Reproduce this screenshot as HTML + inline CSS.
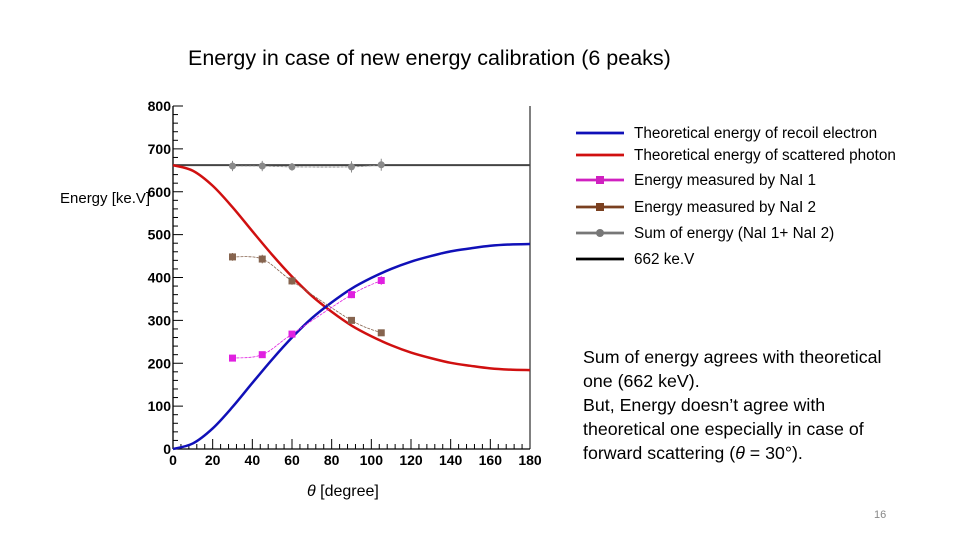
<!DOCTYPE html>
<html><head><meta charset="utf-8"><style>
body{margin:0;width:960px;height:540px;background:#fff;overflow:hidden;font-family:"Liberation Sans",sans-serif;position:relative}
.t{position:absolute;white-space:nowrap;color:#000}
</style></head><body>
<div class="t" style="left:188px;top:46px;font-size:21.5px">Energy in case of new energy calibration (6 peaks)</div>
<div class="t" style="left:60px;top:190px;font-size:15px">Energy [ke.V]</div>
<div class="t" style="left:307px;top:483px;font-size:16px"><i>θ</i> [degree]</div>
<div class="t" style="left:583px;top:345px;font-size:17.8px;line-height:24px">Sum of energy agrees with theoretical<br>one (662 keV).<br>But, Energy doesn’t agree with<br>theoretical one especially in case of<br>forward scattering (<i>θ</i> = 30°).</div>
<div class="t" style="left:874px;top:509px;font-size:11px;color:#888">16</div>
<svg id="chart" width="960" height="540" style="position:absolute;left:0;top:0"></svg>
<script>
const thetaT=[0,10,20,30,40,50,60,70,80,90,100,110,120,130,140,150,160,170,180];
const photonT=[662,649,614,564,508,453,402,357,320,288,263,242,225,212,201,194,188,185,184];
const electronT=[0,13,48,98,154,209,260,305,342,374,399,420,437,450,461,468,474,477,478];
const thetaM=[30,45,60,90,105];
const nai1=[212,220,268,360,393];
const nai2=[448,443,392,300,271];
const sumE=[660,660,658,658,663];
const sumErr=[12,12,9,13,14];
const nai1Err=[5,5,6,8,10];
const nai2Err=[9,10,9,6,5];
const xTicks=[0,20,40,60,80,100,120,140,160,180];
const yTicks=[0,100,200,300,400,500,600,700,800];
const legendLabels=["Theoretical energy of recoil electron","Theoretical energy of scattered photon","Energy measured by NaI 1","Energy measured by NaI 2","Sum of energy  (NaI 1+ NaI 2)","662 ke.V"];
const svg=document.getElementById('chart');const NS='http://www.w3.org/2000/svg';
const X=v=>173+v*(530-173)/180, Y=v=>449-v*(449-106)/800;
function mk(t,a,p){const e=document.createElementNS(NS,t);for(const k in a)e.setAttribute(k,a[k]);(p||svg).appendChild(e);return e;}
function smooth(xs,ys){let pts=xs.map((x,i)=>[X(x),Y(ys[i])]);let d='M'+pts[0];for(let i=0;i<pts.length-1;i++){const p0=pts[i-1]||pts[i],p1=pts[i],p2=pts[i+1],p3=pts[i+2]||p2;d+=' C'+(p1[0]+(p2[0]-p0[0])/6)+','+(p1[1]+(p2[1]-p0[1])/6)+' '+(p2[0]-(p3[0]-p1[0])/6)+','+(p2[1]-(p3[1]-p1[1])/6)+' '+p2;}return d;}
let e;
e=mk('line',{x1:X(0),y1:Y(0),x2:X(180),y2:Y(0),stroke:'#000','stroke-width':1.3});
e=mk('line',{x1:X(0),y1:Y(0),x2:X(0),y2:Y(800),stroke:'#000','stroke-width':1.3});
e=mk('line',{x1:X(180),y1:Y(0),x2:X(180),y2:Y(800),stroke:'#000','stroke-width':1});
for(let v=0;v<=180;v+=4){const big=v%20===0;mk('line',{x1:X(v),x2:X(v),y1:Y(0),y2:Y(0)-(big?10:5),stroke:'#000','stroke-width':1});}
for(let v=0;v<=800;v+=20){const big=v%100===0;mk('line',{x1:X(0),x2:X(0)+(big?10:5),y1:Y(v),y2:Y(v),stroke:'#000','stroke-width':1});}
xTicks.forEach(v=>{e=mk('text',{x:X(v),y:465,'text-anchor':'middle','font-size':14,'font-weight':'bold','font-family':'Liberation Sans'});e.textContent=v;});
yTicks.forEach(v=>{e=mk('text',{x:171,y:Y(v)+5,'text-anchor':'end','font-size':14,'font-weight':'bold','font-family':'Liberation Sans'});e.textContent=v;});
e=mk('line',{x1:X(0),x2:X(180),y1:Y(662),y2:Y(662),stroke:'#444','stroke-width':2});
e=mk('path',{d:smooth(thetaT,photonT),fill:'none',stroke:'#d01010','stroke-width':2.5});
e=mk('path',{d:smooth(thetaT,electronT),fill:'none',stroke:'#1010b8','stroke-width':2.5});
function series(vals,errs,col,name,shape){
 e=mk('path',{d:smooth(thetaM,vals),fill:'none',stroke:col,'stroke-width':0.8,'stroke-dasharray':'3,1'});
 thetaM.forEach((t,i)=>{mk('line',{x1:X(t),x2:X(t),y1:Y(vals[i]-errs[i]),y2:Y(vals[i]+errs[i]),stroke:col,'stroke-width':1});
  if(shape==='c')e=mk('circle',{cx:X(t),cy:Y(vals[i]),r:3.5,fill:col});else e=mk('rect',{x:X(t)-3.5,y:Y(vals[i])-3.5,width:7,height:7,fill:col});
  });
}
series(sumE,sumErr,'#8a8a8a','sum-energy','c');
series(nai2,nai2Err,'#86644f','nai2','s');
series(nai1,nai1Err,'#e020e0','nai1','s');
const lc=['#1010b8','#d01010','#d020c0','#7a4020','#777','#000'];const ly=[133,155,180,207,233,259];
legendLabels.forEach((l,i)=>{const g=mk('g',{});
 mk('line',{x1:576,x2:624,y1:ly[i],y2:ly[i],stroke:lc[i],'stroke-width':2.8},g);
 if(i===2||i===3)mk('rect',{x:596,y:ly[i]-4,width:8,height:8,fill:lc[i]},g);
 if(i===4)mk('circle',{cx:600,cy:ly[i],r:4,fill:lc[i]},g);
 const t=mk('text',{x:634,y:ly[i]+5,'font-size':15.3,'font-family':'Liberation Sans'},g);t.textContent=l;});
</script>
</body></html>
